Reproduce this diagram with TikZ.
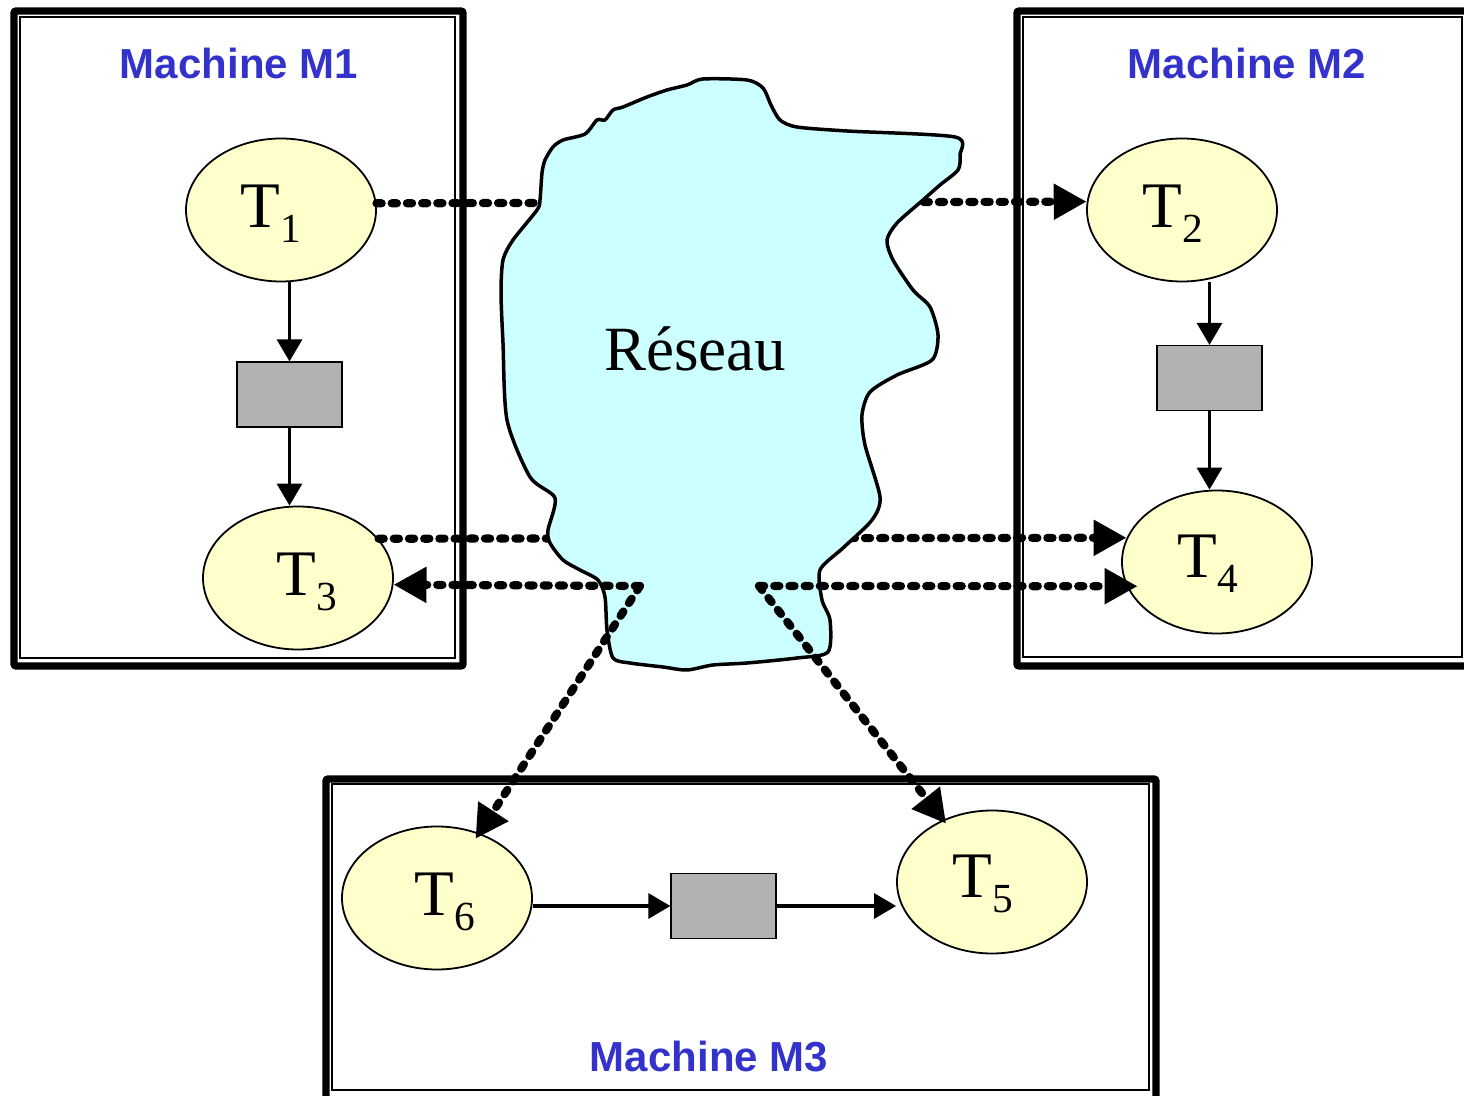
\documentclass[tikz,border=0pt]{standalone}
\usepackage{fontspec}
\setmainfont{Liberation Serif}
\newfontfamily\machfont{Liberation Sans}
\usetikzlibrary{arrows.meta,shapes.geometric,calc}

\definecolor{placefill}{HTML}{FFFFCC}
\definecolor{transfill}{HTML}{B2B2B2}
\definecolor{netfill}{HTML}{CCFFFF}
\definecolor{machblue}{HTML}{3333CC}

\newcommand\tname[1]{T\raisebox{-7.5pt}{\fontsize{20.7}{20.7}\selectfont #1}}

\tikzset{
  place/.style={ellipse, draw, line width=0.9pt, fill=placefill,
    minimum width=95pt, minimum height=71.5pt, inner sep=0pt},
  trans/.style={rectangle, draw, line width=0.6pt, fill=transfill,
    minimum width=52.5pt, minimum height=32.5pt, inner sep=0pt},
  flow/.style={line width=1.6pt, -{Triangle[length=11pt,width=12.5pt]}},
  msg/.style={line width=4.1pt, line cap=round, dash pattern=on 2.6pt off 5pt,
    -{Triangle[length=16.5pt,width=17pt]}},
  machouter/.style={line width=3.6pt, rounded corners=1pt},
  machinner/.style={line width=0.9pt},
  mlabel/.style={anchor=base, inner sep=0pt, text=machblue,
    font=\machfont\bfseries\fontsize{21}{21}\selectfont},
  tlabel/.style={anchor=base west, inner sep=0pt,
    font=\fontsize{32.5}{32.5}\selectfont},
  netlabel/.style={anchor=base, inner sep=0pt,
    font=\fontsize{31.5}{31.5}\selectfont},
  cloud/.style={draw, line width=1.75pt, fill=netfill, line join=round},
}

\begin{document}
\begin{tikzpicture}[x=0.5pt, y=-0.5pt]
\clip (0,0) rectangle (1464,1096);
\fill[white] (0,0) rectangle (1464,1096);

% machine frames
\draw[machouter] (14,11) rectangle (463,666);
\draw[machinner] (20,17) rectangle (455,658);
\draw[machouter] (1017,11) rectangle (1474,666);
\draw[machinner] (1023,17) rectangle (1462,657);
\draw[machouter] (326,779) rectangle (1156,1104);
\draw[machinner] (332,784) rectangle (1149,1090);

\node[mlabel] (m1) at (239,79) {Machine M1};
\node[mlabel] (m2) at (1247,79) {Machine M2};
\node[mlabel] (m3) at (709,1071) {Machine M3};

% places and transitions
\node[place] (t1) at (281,210) {};
\node[place] (t2) at (1182,210) {};
\node[place] (t3) at (298,578) {};
\node[place] (t4) at (1217,562) {};
\node[place] (t6) at (437,898) {};
\node[place] (t5) at (992,882) {};

\node[trans] (r1) at (289.5,394.5) {};
\node[trans] (r2) at (1209.5,378) {};
\node[trans] (r3) at (723.5,906) {};

\node[tlabel] (l1) at (240,228) {\tname{1}};
\node[tlabel] (l2) at (1142,228) {\tname{2}};
\node[tlabel] (l3) at (276,596) {\tname{3}};
\node[tlabel] (l4) at (1177,578) {\tname{4}};
\node[tlabel] (l6) at (414,915) {\tname{6}};
\node[tlabel] (l5) at (952,898) {\tname{5}};

% local flow
\draw[flow] (r1.north |- t1.south) -- (r1.north);
\draw[flow] (r1.south) -- (r1.south |- t3.north);
\draw[flow] (r2.north |- t2.south) -- (r2.north);
\draw[flow] (r2.south) -- (r2.south |- t4.north);
\draw[flow] (t6.east |- r3.west) -- (r3.west);
\draw[flow] (r3.east) -- (r3.east -| t5.west);

% messages crossing the network
\draw[msg] (t1.4.84) -- (t2.175.16);
\draw[msg] (t3.26.9) -- (t4.165);

% network
\draw[cloud] plot[smooth cycle, tension=0.45] coordinates {
  (703,79) (747,80) (763,88) (771,105) (780,120) (797,127) (847,131)
  (955,137) (960,155) (958,170) (940,185) (923,200) (897,223) (887,240)
  (893,260) (913,290) (930,307) (938,335) (932,360) (897,375) (870,392)
  (862,415) (865,445) (880,497) (872,520) (843,548) (820,570) (822,600)
  (830,620) (828,652) (797,658) (747,663) (713,665) (687,670) (663,667)
  (630,663) (613,658) (607,630) (605,597) (598,580) (580,570) (563,560)
  (550,543) (548,530) (555,498) (530,477) (507,420) (503,343) (501,293)
  (503,260) (513,240) (537,210) (540,200) (542,173) (545,160) (553,147)
  (563,140) (585,134) (597,120) (605,120) (613,110) (623,107) (647,97)
  (667,90) (687,85)};
\node[netlabel] (net) at (695,371) {Réseau};

% messages leaving the network
\coordinate (p1) at (640,586);
\coordinate (p2) at (759,586);
\draw[msg] (p1) -- (t3.-4.84);
\draw[msg, shorten >=-3.5pt] (p1) -- (t6);
\draw[msg, shorten >=-5.5pt] (p2) -- (t4.195);
\draw[msg, shorten >=-2.5pt] (p2) -- (t5);
\end{tikzpicture}
\end{document}
